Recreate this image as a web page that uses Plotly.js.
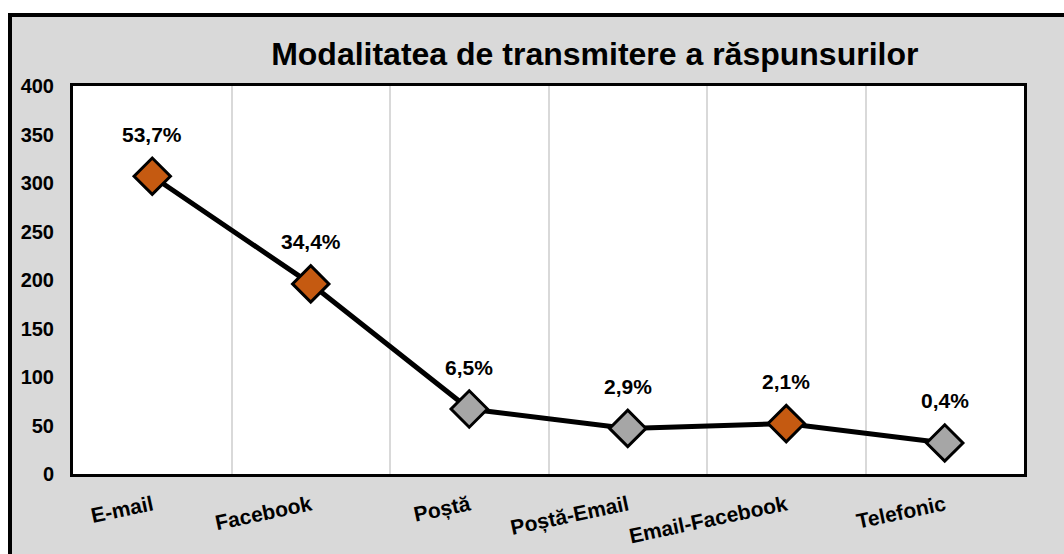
<!DOCTYPE html>
<html>
<head>
<meta charset="utf-8">
<script src="https://cdn.plot.ly/plotly-3.0.1.min.js"></script>
<style>
  html, body { margin:0; padding:0; background:#ffffff; overflow:hidden; width:1064px; height:554px; }
  #frame { position:absolute; left:8px; top:13px; width:1200px; height:700px; background:#d9d9d9; border-left:4px solid #000; border-top:4px solid #000; }
  #chart { position:absolute; left:0; top:0; width:1064px; height:554px; }
</style>
</head>
<body>
<div id="frame"></div>
<div id="chart"></div>
<script>
const categories = ["E-mail", "Facebook", "Poștă", "Poștă-Email", "Email-Facebook", "Telefonic"];
const values = [307, 196, 67, 47, 52, 32];
const percentLabels = ["53,7%", "34,4%", "6,5%", "2,9%", "2,1%", "0,4%"];
const markerColors = ["#c55a11", "#c55a11", "#a6a6a6", "#a6a6a6", "#c55a11", "#a6a6a6"];
const yTicks = [0, 50, 100, 150, 200, 250, 300, 350, 400];

const FONT = 'Arial, "Liberation Sans", sans-serif';

const trace = {
  type: 'scatter',
  mode: 'lines+markers',
  x: categories,
  y: values,
  line: { color: '#000000', width: 5 },
  marker: { symbol: 'diamond', size: 28, color: markerColors, line: { color: '#000000', width: 3 } },
  hoverinfo: 'x+y'
};

const annotations = categories.map((c, i) => ({
  x: c, y: values[i], xref: 'x', yref: 'y',
  text: '<b>' + percentLabels[i] + '</b>',
  showarrow: false, yshift: 42, yanchor: 'middle', xanchor: 'center',
  font: { family: FONT, size: 21, color: '#000000' }
}));

const layout = {
  width: 1064, height: 554,
  paper_bgcolor: 'rgba(0,0,0,0)',
  plot_bgcolor: '#ffffff',
  margin: { l: 73, r: 40, t: 86, b: 80, pad: 0 },
  showlegend: false,
  title: {
    text: '<b>Modalitatea de transmitere a răspunsurilor</b>',
    font: { family: FONT, size: 32, color: '#000000' },
    x: 0.559, xref: 'container', xanchor: 'center',
    y: 0.902, yref: 'container', yanchor: 'middle'
  },
  xaxis: {
    type: 'category',
    range: [-0.5, 5.5],
    tickson: 'boundaries',
    showgrid: true, gridcolor: '#d9d9d9', gridwidth: 2,
    showline: true, linecolor: '#000000', linewidth: 3, mirror: true,
    ticks: '', tickangle: -12,
    ticklabelstandoff: 8,
    tickfont: { family: FONT, size: 21, color: '#000000', weight: 'bold' },
    zeroline: false
  },
  yaxis: {
    range: [0, 400],
    tickvals: yTicks,
    ticktext: yTicks.map(String),
    showgrid: false,
    showline: true, linecolor: '#000000', linewidth: 3, mirror: true,
    ticks: '',
    ticklabelstandoff: 12,
    tickfont: { family: FONT, size: 20, color: '#000000', weight: 'bold' },
    zeroline: false
  },
  annotations: annotations
};

Plotly.newPlot('chart', [trace], layout, { displayModeBar: false, staticPlot: true });
</script>
</body>
</html>
